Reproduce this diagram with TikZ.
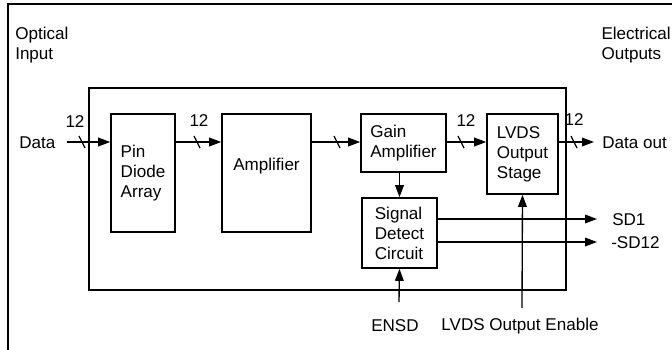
\documentclass[tikz,border=0pt]{standalone}
\usepackage{fontspec}
\setmainfont{Liberation Sans}
\usetikzlibrary{arrows.meta}
\begin{document}
\begin{tikzpicture}[x=0.75pt,y=-0.75pt,
  font=\fontsize{12.8}{15}\selectfont,
  blk/.style={draw,line width=1.2pt,align=left,inner sep=0pt},
  frame/.style={line width=1.7pt},
  arr/.style={line width=1pt,-{Triangle[length=9pt,width=6.5pt]}},
  busmark/.style={line width=0.9pt},
  txt/.style={inner sep=0pt,align=left}]
\useasboundingbox (0,0) rectangle (672,350);
% outer frame
\draw[frame] (8,350) -- (8,4) -- (672,4);
\node[txt,anchor=west] (oin) at (15,45) {Optical\\Input};
\node[txt,anchor=east] (eout) at (671,45) {Electrical\\Outputs};
% inner box
\node[blk,minimum width=357.75pt,minimum height=151.5pt] (chip) at (327.5,189) {};
% blocks
\node[blk,minimum width=48pt,minimum height=88.5pt] (pin) at (143,173) {Pin\\Diode\\Array};
\node[blk,minimum width=66.75pt,minimum height=88.5pt,label={[yshift=5pt,inner sep=0pt]center:Amplifier}] (amp) at (266.5,173) {};
\node[blk,minimum width=63.75pt,minimum height=43.5pt] (gain) at (403.5,143) {Gain\\Amplifier};
\node[blk,minimum width=53.25pt,minimum height=60pt] (lvds) at (522.5,154) {LVDS\\Output\\Stage};
\node[blk,minimum width=56.25pt,minimum height=52.5pt] (sig) at (399.5,233) {Signal\\Detect\\Circuit};
% coordinates
\coordinate (din) at (67,142);
\coordinate (dout) at (594,142);
\coordinate (sd1) at (597,219);
\coordinate (sd12) at (597,242);
\coordinate (ensd) at (399,302);
\coordinate (oen) at (522,308);
% connectors
\draw[arr] (din) -- (din -| pin.west);
\draw[arr] (pin.east |- din) -- (amp.west |- din);
\draw[arr] (amp.east |- din) -- (gain.west |- din);
\draw[arr] (gain.east |- din) -- (lvds.west |- din);
\draw[arr] (lvds.east |- din) -- (dout);
\draw[arr] (sig.north |- gain.south) -- (sig.north);
\draw[arr] (sd1 -| sig.east) -- (sd1);
\draw[arr] (sd12 -| sig.east) -- (sd12);
\draw[arr] (ensd) -- (sig.south);
\draw[arr] (oen) -- (lvds.south);
% bus marks
\foreach \bx in {82,197,337,461,574}{
  \draw[busmark] (\bx-3,136) -- (\bx+3,148);
}
% labels
\node[txt,anchor=west] (ldata) at (19,143) {Data};
\node[txt] (l12a) at (75,122) {12};
\node[txt] (l12b) at (199,121) {12};
\node[txt] (l12c) at (466,121) {12};
\node[txt] (l12d) at (574,120) {12};
\node[txt,anchor=west] (ldout) at (602,143) {Data out};
\node[txt,anchor=west] (lsd1) at (612,220) {SD1};
\node[txt,anchor=west] (lsd12) at (611,243) {-SD12};
\node[txt] (lensd) at (395,326) {ENSD};
\node[txt] (loen) at (520,326) {LVDS Output Enable};
\end{tikzpicture}
\end{document}
